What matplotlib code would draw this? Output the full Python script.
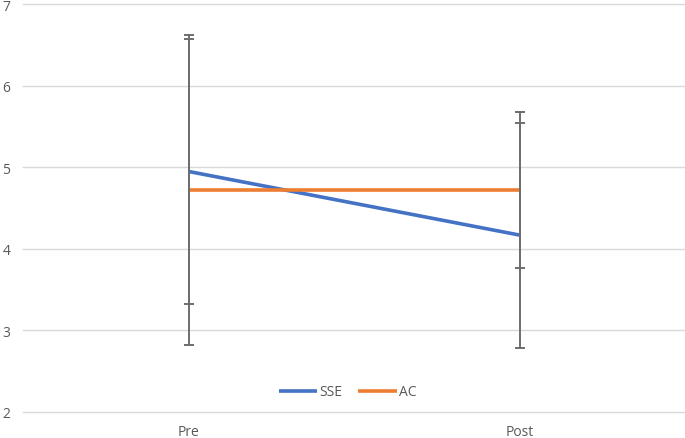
import numpy as np
import matplotlib.pyplot as plt

plt.rcParams['font.family'] = ['Open Sans', 'DejaVu Sans']

categories = ['Pre', 'Post']
sse = [4.95, 4.17]
sse_err = [1.63, 1.38]
ac = [4.72, 4.72]
ac_err = [1.90, 0.96]

blue = '#4472C4'
orange = '#ED7D31'
text_gray = '#595959'

fig = plt.figure(figsize=(6.85, 4.39), dpi=100)
ax = fig.add_axes([23 / 685, 26 / 439, 662 / 685, 407.7 / 439])

x = np.arange(len(categories))

ax.plot(x, sse, color=blue, lw=2.6, solid_capstyle='butt', label='SSE', zorder=3)
ax.plot(x, ac, color=orange, lw=2.6, solid_capstyle='butt', label='AC', zorder=3)

# barras de error encima de las lineas
ax.errorbar(x, sse, yerr=sse_err, fmt='none', ecolor='#6e6e6e', elinewidth=1.4,
            capsize=3.3, capthick=1.4, zorder=4)
ax.errorbar(x, ac, yerr=ac_err, fmt='none', ecolor='#6e6e6e', elinewidth=1.4,
            capsize=3.3, capthick=1.4, zorder=4)

ax.set_xlim(-0.5, 1.5)
ax.set_ylim(2, 7)
ax.set_yticks(range(2, 8))
ax.set_xticks(x)
ax.set_xticklabels(categories)
ax.grid(axis='y', color='#D9D9D9', lw=1)
for gl in ax.get_ygridlines():
    gl.set_clip_on(False)
ax.set_axisbelow(True)
for s in ax.spines.values():
    s.set_visible(False)
ax.tick_params(length=0, labelsize=10, colors=text_gray)
ax.tick_params(axis='y', pad=9)
ax.tick_params(axis='x', pad=9)

leg = ax.legend(loc='lower center', bbox_to_anchor=(0.49, 0.0), ncol=2, frameon=False,
                fontsize=10, handlelength=2.8, columnspacing=1.1, handletextpad=0.15)
for t in leg.get_texts():
    t.set_color(text_gray)

fig.savefig('out.png', dpi=100)
